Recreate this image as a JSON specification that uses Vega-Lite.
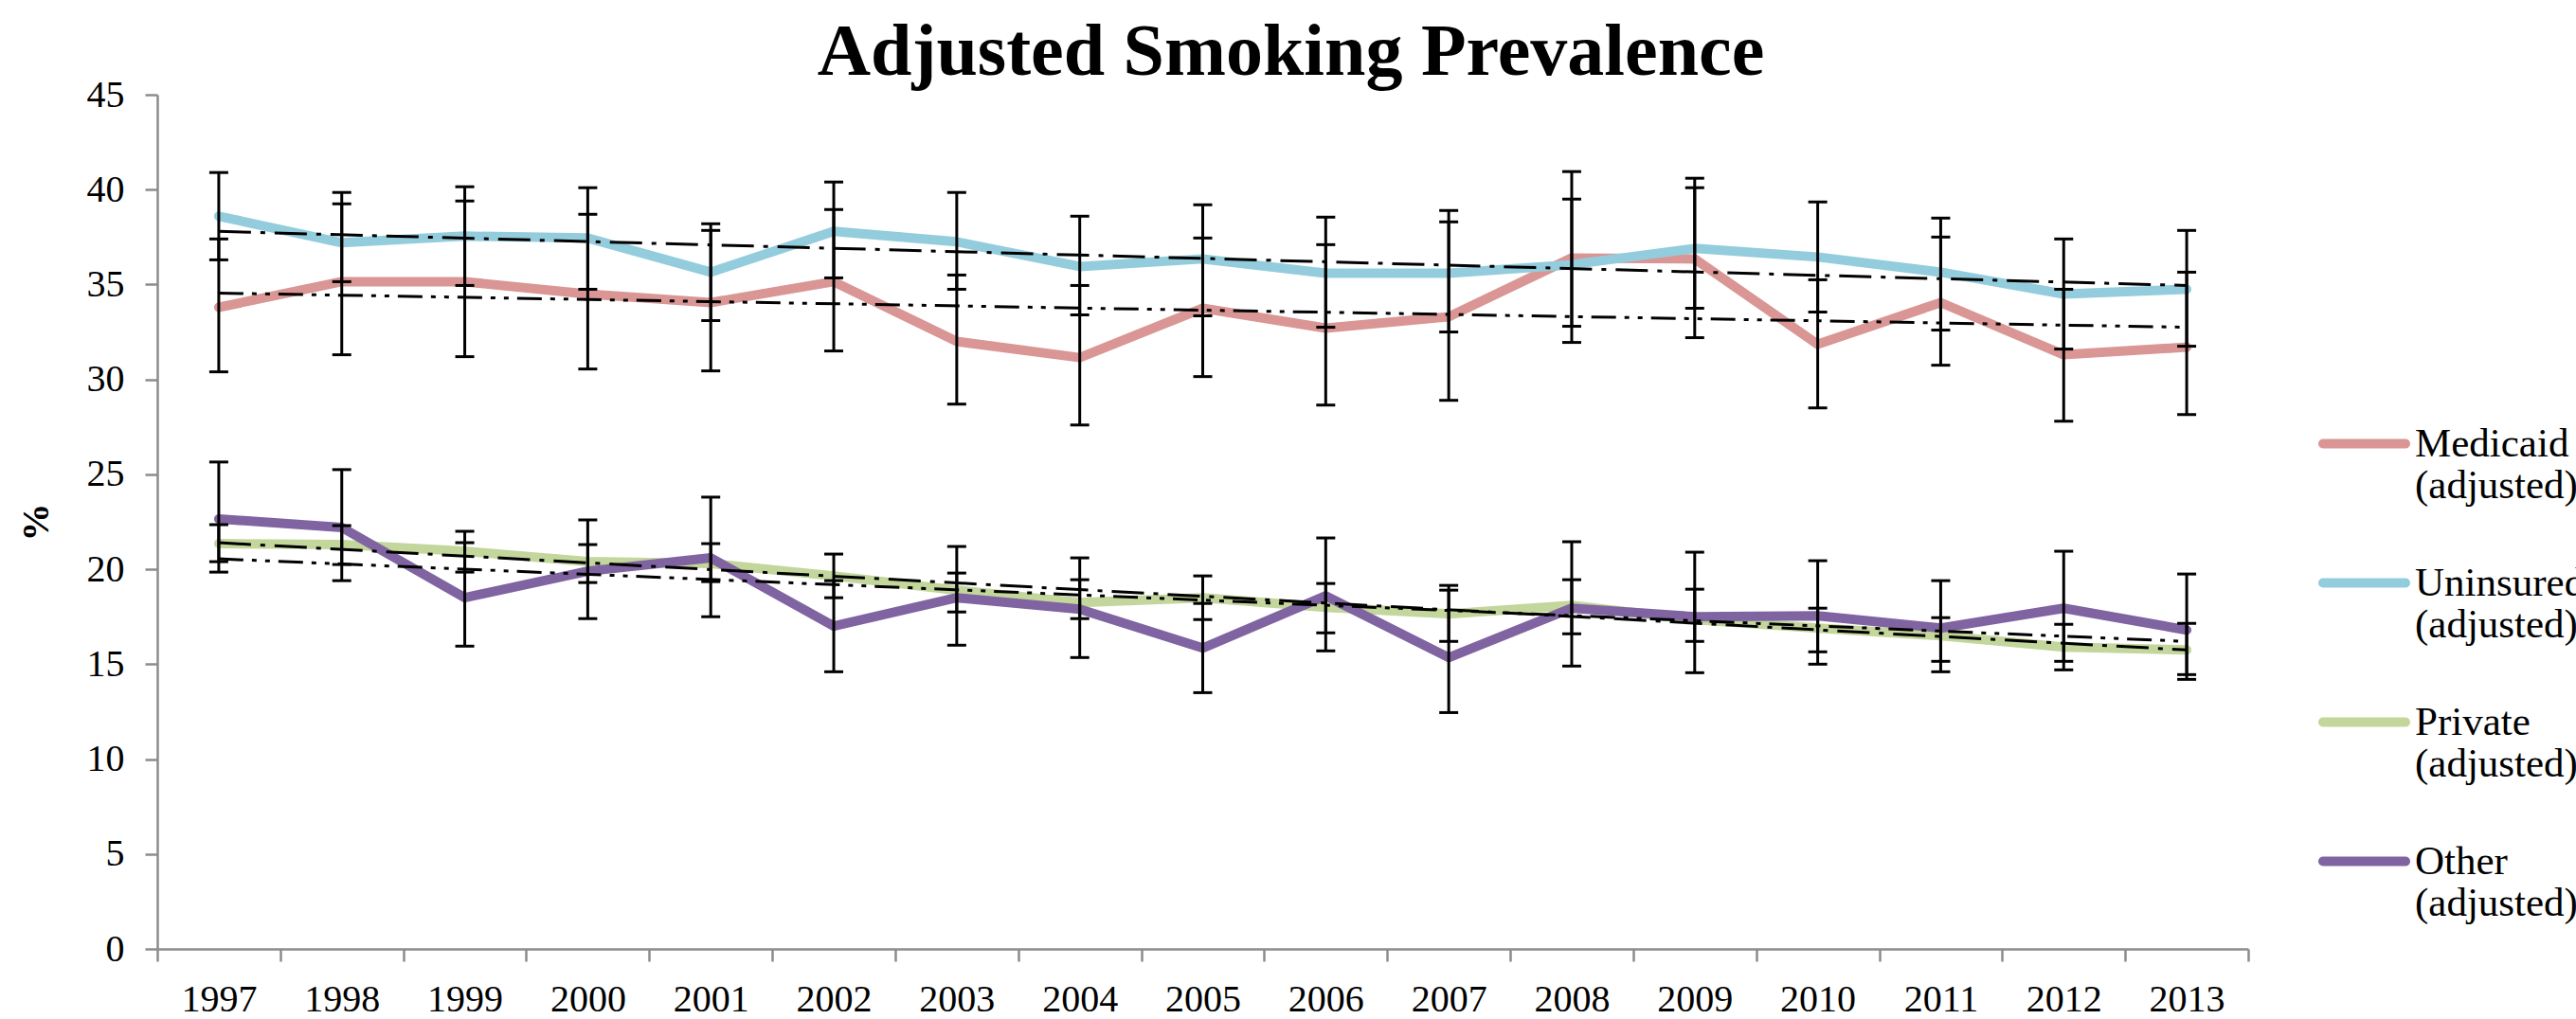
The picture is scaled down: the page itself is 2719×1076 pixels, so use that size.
{
  "$schema": "https://vega.github.io/schema/vega-lite/v6.json",
  "autosize": {"type": "none"},
  "padding": {"left": 166, "top": 100, "right": 346, "bottom": 74},
  "width": 2207,
  "height": 902,
  "background": "white",
  "config": {"view": {"stroke": null}, "font": "Liberation Serif"},
  "title": {"text": "Adjusted Smoking Prevalence", "font": "Liberation Serif", "fontSize": 78, "fontWeight": "bold", "color": "black", "anchor": "middle", "frame": "group", "dx": 93, "dy": 97, "offset": 20, "baseline": "alphabetic"},
  "datasets": {
    "series": [
      {"group": "Medicaid", "year": "1997", "value": 33.8, "lo": 30.4, "hi": 37.4},
      {"group": "Medicaid", "year": "1998", "value": 35.15, "lo": 31.3, "hi": 39.85},
      {"group": "Medicaid", "year": "1999", "value": 35.15, "lo": 31.2, "hi": 39.4},
      {"group": "Medicaid", "year": "2000", "value": 34.5, "lo": 30.55, "hi": 38.7},
      {"group": "Medicaid", "year": "2001", "value": 34.05, "lo": 30.45, "hi": 37.85},
      {"group": "Medicaid", "year": "2002", "value": 35.15, "lo": 31.5, "hi": 38.95},
      {"group": "Medicaid", "year": "2003", "value": 32.0, "lo": 28.7, "hi": 35.5},
      {"group": "Medicaid", "year": "2004", "value": 31.15, "lo": 27.6, "hi": 34.95},
      {"group": "Medicaid", "year": "2005", "value": 33.75, "lo": 30.15, "hi": 37.45},
      {"group": "Medicaid", "year": "2006", "value": 32.7, "lo": 28.65, "hi": 37.1},
      {"group": "Medicaid", "year": "2007", "value": 33.3, "lo": 28.9, "hi": 38.3},
      {"group": "Medicaid", "year": "2008", "value": 36.4, "lo": 31.95, "hi": 40.95},
      {"group": "Medicaid", "year": "2009", "value": 36.35, "lo": 32.2, "hi": 40.6},
      {"group": "Medicaid", "year": "2010", "value": 31.85, "lo": 28.5, "hi": 35.25},
      {"group": "Medicaid", "year": "2011", "value": 34.05, "lo": 30.75, "hi": 37.5},
      {"group": "Medicaid", "year": "2012", "value": 31.3, "lo": 27.8, "hi": 34.75},
      {"group": "Medicaid", "year": "2013", "value": 31.7, "lo": 28.15, "hi": 35.65},
      {"group": "Uninsured", "year": "1997", "value": 38.6, "lo": 36.3, "hi": 40.9},
      {"group": "Uninsured", "year": "1998", "value": 37.2, "lo": 35.15, "hi": 39.25},
      {"group": "Uninsured", "year": "1999", "value": 37.55, "lo": 34.95, "hi": 40.15},
      {"group": "Uninsured", "year": "2000", "value": 37.45, "lo": 34.75, "hi": 40.1},
      {"group": "Uninsured", "year": "2001", "value": 35.65, "lo": 33.1, "hi": 38.2},
      {"group": "Uninsured", "year": "2002", "value": 37.8, "lo": 35.35, "hi": 40.4},
      {"group": "Uninsured", "year": "2003", "value": 37.25, "lo": 34.75, "hi": 39.85},
      {"group": "Uninsured", "year": "2004", "value": 35.95, "lo": 33.4, "hi": 38.6},
      {"group": "Uninsured", "year": "2005", "value": 36.35, "lo": 33.35, "hi": 39.2},
      {"group": "Uninsured", "year": "2006", "value": 35.6, "lo": 32.75, "hi": 38.55},
      {"group": "Uninsured", "year": "2007", "value": 35.6, "lo": 32.5, "hi": 38.9},
      {"group": "Uninsured", "year": "2008", "value": 36.05, "lo": 32.8, "hi": 39.5},
      {"group": "Uninsured", "year": "2009", "value": 36.9, "lo": 33.75, "hi": 40.1},
      {"group": "Uninsured", "year": "2010", "value": 36.45, "lo": 33.55, "hi": 39.35},
      {"group": "Uninsured", "year": "2011", "value": 35.65, "lo": 32.6, "hi": 38.5},
      {"group": "Uninsured", "year": "2012", "value": 34.5, "lo": 31.6, "hi": 37.4},
      {"group": "Uninsured", "year": "2013", "value": 34.75, "lo": 31.75, "hi": 37.85},
      {"group": "Private", "year": "1997", "value": 21.35, "lo": 20.4, "hi": 22.35},
      {"group": "Private", "year": "1998", "value": 21.3, "lo": 20.25, "hi": 22.3},
      {"group": "Private", "year": "1999", "value": 20.95, "lo": 19.85, "hi": 22.0},
      {"group": "Private", "year": "2000", "value": 20.4, "lo": 19.3, "hi": 21.3},
      {"group": "Private", "year": "2001", "value": 20.3, "lo": 19.35, "hi": 21.35},
      {"group": "Private", "year": "2002", "value": 19.65, "lo": 18.5, "hi": 20.8},
      {"group": "Private", "year": "2003", "value": 18.9, "lo": 17.75, "hi": 19.8},
      {"group": "Private", "year": "2004", "value": 18.25, "lo": 17.4, "hi": 19.45},
      {"group": "Private", "year": "2005", "value": 18.5, "lo": 17.35, "hi": 19.65},
      {"group": "Private", "year": "2006", "value": 18.0, "lo": 16.65, "hi": 19.25},
      {"group": "Private", "year": "2007", "value": 17.65, "lo": 16.2, "hi": 19.15},
      {"group": "Private", "year": "2008", "value": 18.1, "lo": 16.6, "hi": 19.45},
      {"group": "Private", "year": "2009", "value": 17.35, "lo": 16.2, "hi": 18.95},
      {"group": "Private", "year": "2010", "value": 16.9, "lo": 15.65, "hi": 17.95},
      {"group": "Private", "year": "2011", "value": 16.5, "lo": 15.15, "hi": 17.45},
      {"group": "Private", "year": "2012", "value": 15.9, "lo": 14.7, "hi": 17.1},
      {"group": "Private", "year": "2013", "value": 15.75, "lo": 14.45, "hi": 17.15},
      {"group": "Other", "year": "1997", "value": 22.65, "lo": 19.85, "hi": 25.65},
      {"group": "Other", "year": "1998", "value": 22.2, "lo": 19.4, "hi": 25.25},
      {"group": "Other", "year": "1999", "value": 18.5, "lo": 15.95, "hi": 21.4},
      {"group": "Other", "year": "2000", "value": 19.9, "lo": 17.4, "hi": 22.6},
      {"group": "Other", "year": "2001", "value": 20.6, "lo": 17.5, "hi": 23.8},
      {"group": "Other", "year": "2002", "value": 17.0, "lo": 14.6, "hi": 19.4},
      {"group": "Other", "year": "2003", "value": 18.5, "lo": 16.0, "hi": 21.2},
      {"group": "Other", "year": "2004", "value": 17.9, "lo": 15.35, "hi": 20.6},
      {"group": "Other", "year": "2005", "value": 15.85, "lo": 13.5, "hi": 18.2},
      {"group": "Other", "year": "2006", "value": 18.6, "lo": 15.7, "hi": 21.65},
      {"group": "Other", "year": "2007", "value": 15.35, "lo": 12.45, "hi": 18.9},
      {"group": "Other", "year": "2008", "value": 17.95, "lo": 14.9, "hi": 21.45},
      {"group": "Other", "year": "2009", "value": 17.5, "lo": 14.55, "hi": 20.9},
      {"group": "Other", "year": "2010", "value": 17.55, "lo": 15.0, "hi": 20.45},
      {"group": "Other", "year": "2011", "value": 16.9, "lo": 14.6, "hi": 19.4},
      {"group": "Other", "year": "2012", "value": 17.95, "lo": 15.15, "hi": 20.95},
      {"group": "Other", "year": "2013", "value": 16.8, "lo": 14.2, "hi": 19.75}
    ],
    "trend": [
      {"group": "Medicaid", "year": "1997", "value": 34.55},
      {"group": "Medicaid", "year": "2013", "value": 32.75},
      {"group": "Uninsured", "year": "1997", "value": 37.8},
      {"group": "Uninsured", "year": "2013", "value": 34.95},
      {"group": "Private", "year": "1997", "value": 21.4},
      {"group": "Private", "year": "2013", "value": 15.75},
      {"group": "Other", "year": "1997", "value": 20.55},
      {"group": "Other", "year": "2013", "value": 16.2}
    ]
  },
  "layer": [
    {
      "data": {"name": "series"},
      "mark": {"type": "line", "strokeWidth": 10, "strokeJoin": "round", "strokeCap": "round"},
      "encoding": {
        "x": {"field": "year", "type": "ordinal", "title": null,
          "scale": {"paddingInner": 0, "paddingOuter": 0},
          "axis": {"labelAngle": 0, "labelFont": "Liberation Serif", "labelFontSize": 40, "labelColor": "black", "labelPadding": 20, "tickBand": "extent", "tickSize": 13, "tickWidth": 2.5, "tickColor": "#8c8c8c", "domainColor": "#8c8c8c", "domainWidth": 2.5, "grid": false}},
        "y": {"field": "value", "type": "quantitative", "title": "%",
          "scale": {"domain": [0, 45], "nice": false, "zero": true},
          "axis": {"values": [0, 5, 10, 15, 20, 25, 30, 35, 40, 45], "labelFont": "Liberation Serif", "labelFontSize": 40, "labelColor": "black", "labelPadding": 22, "tickSize": 13, "tickWidth": 2.5, "tickColor": "#8c8c8c", "domainColor": "#8c8c8c", "domainWidth": 2.5, "grid": false, "titleFont": "Liberation Serif", "titleFontSize": 40, "titleFontWeight": "bold", "titleColor": "black", "titleX": -128, "titleY": 451, "titleAngle": -90, "titleAlign": "center", "titleBaseline": "middle"}},
        "color": {"field": "group", "type": "nominal",
          "scale": {"domain": ["Medicaid", "Uninsured", "Private", "Other"], "range": ["#D99694", "#93CDDD", "#C3D69B", "#8064A2"]},
          "legend": {"orient": "none", "legendX": 2281, "legendY": 320, "title": null, "symbolType": "stroke", "symbolSize": 7569, "symbolStrokeWidth": 10, "labelFont": "Liberation Serif", "labelFontSize": 43, "labelColor": "black", "labelOffset": 5, "labelLimit": 0, "labelExpr": "[datum.label, '(adjusted)']", "labelBaseline": "middle", "rowPadding": 32, "padding": 0,
            "encode": {"labels": {"update": {"lineHeight": {"value": 44}}}, "symbols": {"update": {"strokeCap": {"value": "round"}}}}}}
      }
    },
    {
      "data": {"name": "series"},
      "mark": {"type": "rule", "color": "black", "strokeWidth": 3},
      "encoding": {
        "x": {"field": "year", "type": "ordinal", "title": null},
        "y": {"field": "lo", "type": "quantitative", "title": "%"},
        "y2": {"field": "hi"}
      }
    },
    {
      "data": {"name": "series"},
      "mark": {"type": "tick", "color": "black", "size": 20, "thickness": 3, "opacity": 1},
      "encoding": {
        "x": {"field": "year", "type": "ordinal", "title": null},
        "y": {"field": "lo", "type": "quantitative", "title": "%"}
      }
    },
    {
      "data": {"name": "series"},
      "mark": {"type": "tick", "color": "black", "size": 20, "thickness": 3, "opacity": 1},
      "encoding": {
        "x": {"field": "year", "type": "ordinal", "title": null},
        "y": {"field": "hi", "type": "quantitative", "title": "%"}
      }
    },
    {
      "data": {"name": "trend"},
      "transform": [{"filter": "datum.group === 'Medicaid' || datum.group === 'Other'"}],
      "mark": {"type": "line", "color": "black", "strokeWidth": 3, "strokeDash": [26, 9, 5, 9, 5, 9]},
      "encoding": {
        "x": {"field": "year", "type": "ordinal", "title": null},
        "y": {"field": "value", "type": "quantitative", "title": "%"},
        "detail": {"field": "group"}
      }
    },
    {
      "data": {"name": "trend"},
      "transform": [{"filter": "datum.group === 'Uninsured' || datum.group === 'Private'"}],
      "mark": {"type": "line", "color": "black", "strokeWidth": 3, "strokeDash": [34, 10, 5, 10]},
      "encoding": {
        "x": {"field": "year", "type": "ordinal", "title": null},
        "y": {"field": "value", "type": "quantitative", "title": "%"},
        "detail": {"field": "group"}
      }
    }
  ]
}
